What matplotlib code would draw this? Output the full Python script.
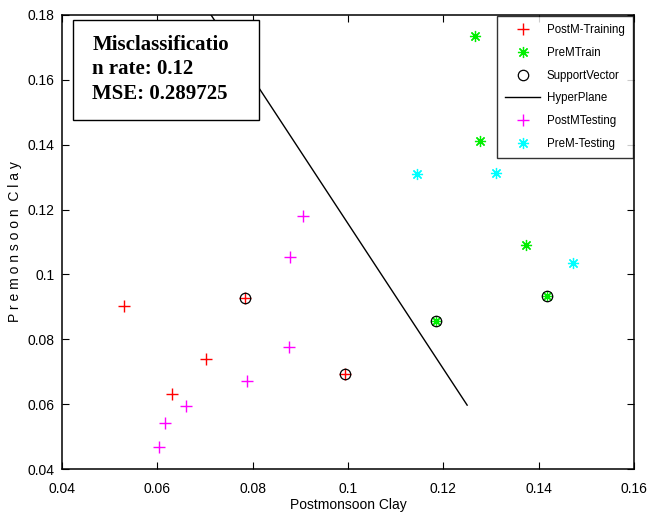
import matplotlib
matplotlib.use("Agg")
import matplotlib.pyplot as plt
from matplotlib.patches import Rectangle

# Data
postm_train_x = [0.0530, 0.0632, 0.0702, 0.0784, 0.0994]
postm_train_y = [0.0902, 0.0631, 0.0738, 0.0926, 0.0693]
prem_train_x = [0.1266, 0.1277, 0.1185, 0.1374, 0.1418]
prem_train_y = [0.1734, 0.1411, 0.0857, 0.1090, 0.0935]
sv_x = [0.0784, 0.0994, 0.1185, 0.1418]
sv_y = [0.0926, 0.0693, 0.0857, 0.0935]
hyper_x = [0.0713, 0.1250]
hyper_y = [0.1800, 0.0597]
postm_test_x = [0.0604, 0.0616, 0.0660, 0.0788, 0.0876, 0.0879, 0.0905]
postm_test_y = [0.0467, 0.0541, 0.0594, 0.0672, 0.0776, 0.1054, 0.1180]
prem_test_x = [0.1144, 0.1311, 0.1473]
prem_test_y = [0.1311, 0.1312, 0.1034]
xticks = [0.04, 0.06, 0.08, 0.10, 0.12, 0.14, 0.16]
xticklabels = ["0.04", "0.06", "0.08", "0.1", "0.12", "0.14", "0.16"]
yticks = [0.04, 0.06, 0.08, 0.10, 0.12, 0.14, 0.16, 0.18]
yticklabels = ["0.04", "0.06", "0.08", "0.1", "0.12", "0.14", "0.16", "0.18"]
info_lines = ["Misclassificatio", "n rate: 0.12", "MSE: 0.289725"]

plt.rcParams['font.family'] = ['Liberation Sans', 'DejaVu Sans']

fig = plt.figure(figsize=(6.47, 5.17), dpi=100)
ax = fig.add_axes([0.0955, 0.0928, 0.8845, 0.8782])

asterisk = (8, 2, 0)
ax.plot(postm_train_x, postm_train_y, linestyle='none', marker='+', color='#ff0000',
        markersize=9, markeredgewidth=1.0, label='PostM-Training')
ax.plot(prem_train_x, prem_train_y, linestyle='none', marker=asterisk, color='#00ee00',
        markersize=8, markeredgewidth=0.9, label='PreMTrain')
ax.plot(sv_x, sv_y, linestyle='none', marker='o', markerfacecolor='none',
        markeredgecolor='black', markersize=7.5, markeredgewidth=0.9, label='SupportVector')
ax.plot(hyper_x, hyper_y, color='black', linewidth=1.0, label='HyperPlane')
ax.plot(postm_test_x, postm_test_y, linestyle='none', marker='+', color='#ff00ff',
        markersize=9, markeredgewidth=1.0, label='PostMTesting')
ax.plot(prem_test_x, prem_test_y, linestyle='none', marker=asterisk, color='#00ffff',
        markersize=8, markeredgewidth=0.9, label='PreM-Testing')

ax.set_xlim(0.04, 0.16)
ax.set_ylim(0.04, 0.18)
ax.set_xticks(xticks)
ax.set_xticklabels(xticklabels)
ax.set_yticks(yticks)
ax.set_yticklabels(yticklabels)
ax.tick_params(direction='in', top=True, right=True, length=5, width=0.8,
               labelsize=10)
ax.tick_params(axis='x', pad=9)
ax.tick_params(axis='y', pad=5)
for s in ax.spines.values():
    s.set_linewidth(1.1)

ax.set_xlabel('Postmonsoon Clay', fontsize=10, labelpad=2)
ax.set_ylabel('P r e m o n s o o n  C l a y', fontsize=10, labelpad=4)

leg = ax.legend(loc='upper right', fontsize=8.3, frameon=True, fancybox=False,
                edgecolor='black', borderaxespad=0.1, handlelength=3.0,
                labelspacing=0.93, borderpad=0.7, handletextpad=0.6)
leg.get_frame().set_linewidth(1.0)

# info box
rect = Rectangle((0.019, 0.769), 0.3256, 0.22, transform=ax.transAxes,
                 facecolor='white', edgecolor='black', linewidth=1.0, zorder=5)
ax.add_patch(rect)
for txt, yy in zip(info_lines, [0.923, 0.870, 0.815]):
    ax.text(0.0533, yy, txt, transform=ax.transAxes, fontsize=15,
            fontweight='bold', family='Liberation Serif', va='baseline',
            ha='left', zorder=6)

fig.savefig('out.png', dpi=100)
